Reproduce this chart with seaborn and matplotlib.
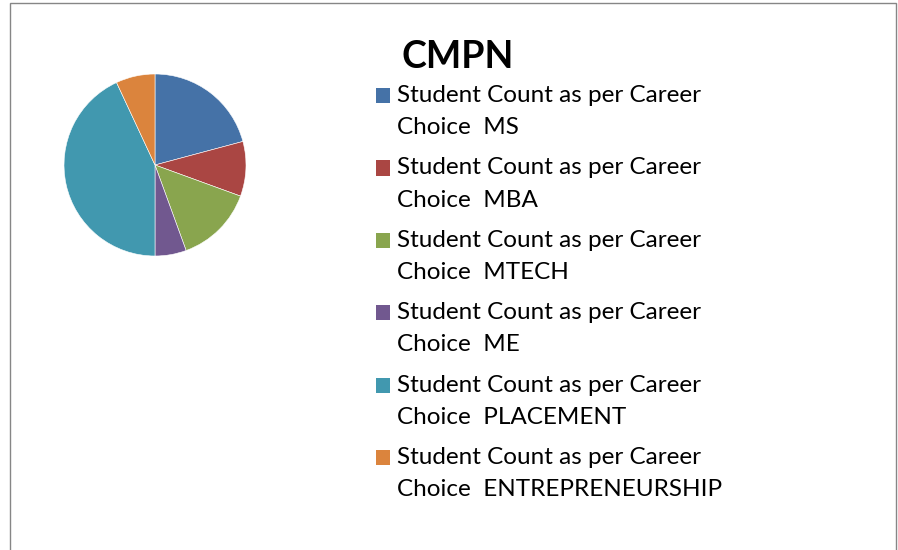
import matplotlib
matplotlib.use("Agg")
import matplotlib.pyplot as plt
import matplotlib.patches as mpatches
from matplotlib.legend_handler import HandlerPatch
import seaborn as sns

# career choice data (CMPN)
choices = ['MS', 'MBA', 'MTECH', 'ME', 'PLACEMENT', 'ENTREPRENEURSHIP']
counts = [15, 7, 10, 4, 31, 5]
colors = ['#4572A7', '#AA4643', '#89A54E', '#71588F', '#4198AF', '#DB843D']

sns.set_theme(style='white')
plt.rcParams['font.family'] = ['Lato', 'DejaVu Sans']
plt.rcParams['text.color'] = 'black'

W, H = 898, 550
fig = plt.figure(figsize=(W / 100, H / 100), dpi=100)

# chart border
fig.patches.append(mpatches.Rectangle((10 / W, -0.05), (886 / W), (547 / H) + 0.05,
                                      transform=fig.transFigure, fill=False,
                                      edgecolor='#868686', linewidth=1))

# pie centred at (155, 165) px with radius 91 px
cx, cy, r = 155, 165, 91
ax = fig.add_axes([(cx - r) / W, (H - cy - r) / H, 2 * r / W, 2 * r / H])
wedges, _ = ax.pie(counts, colors=sns.color_palette(colors), startangle=90,
                   counterclock=False, radius=1,
                   wedgeprops=dict(edgecolor='white', linewidth=0.4))
ax.set_xlim(-1, 1)
ax.set_ylim(-1, 1)
ax.set_aspect('equal')
ax.axis('off')

fig.text(458 / W, 1 - 57 / H, 'CMPN', ha='center', va='center',
         fontsize=27, fontweight='bold', color='black')


# square marker lined up with the first text line
def first_line_square(legend, orig_handle, xdescent, ydescent, width, height, fontsize):
    return mpatches.Rectangle((-xdescent, -ydescent + 11.5), width, height)


labels = ['Student Count as per Career\nChoice  ' + c for c in choices]
handles = [mpatches.Patch(facecolor=c, edgecolor='none') for c in colors]
leg = fig.legend(handles, labels, loc='upper left',
                 bbox_to_anchor=(376 / W, 1 - 85 / H), bbox_transform=fig.transFigure,
                 frameon=False, fontsize=17.5, handlelength=0.58, handleheight=0.58,
                 handletextpad=0.3, labelspacing=0.79, borderpad=0, borderaxespad=0,
                 labelcolor='black',
                 handler_map={mpatches.Patch: HandlerPatch(patch_func=first_line_square)})
for t in leg.get_texts():
    t.set_linespacing(1.66)

fig.savefig('out.png', dpi=100)
